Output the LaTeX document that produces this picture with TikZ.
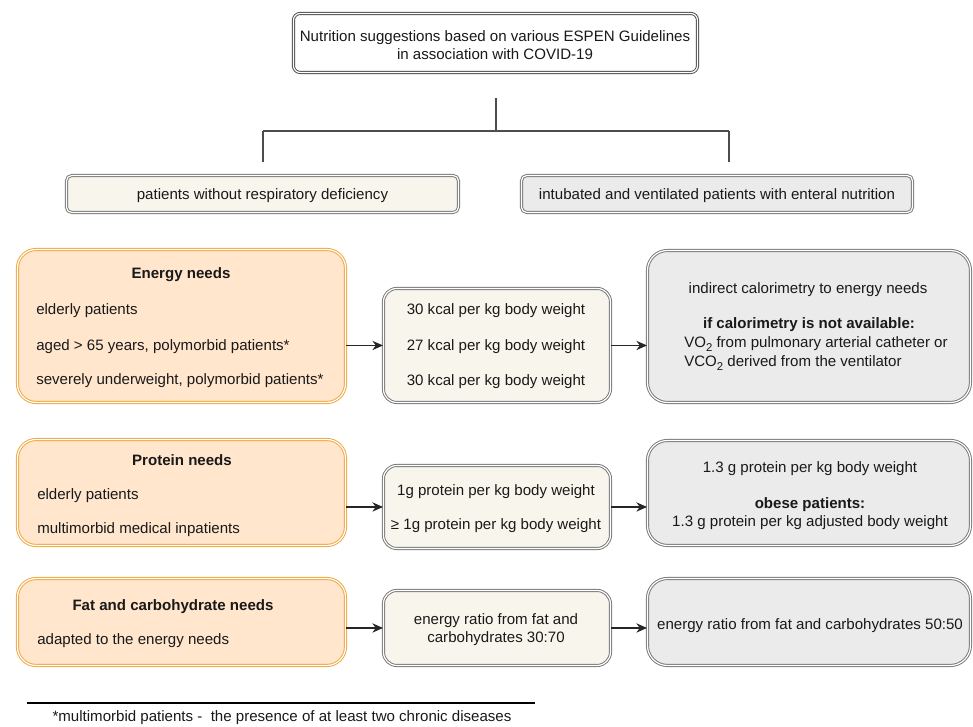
\documentclass[tikz,border=0pt]{standalone}
\usepackage{fontspec}
\setmainfont{Liberation Sans}
\usetikzlibrary{arrows.meta}
\definecolor{orfill}{HTML}{FFE6CC}
\definecolor{ordraw}{HTML}{F0A53A}
\definecolor{gfill}{HTML}{EBEBEB}
\definecolor{cfill}{HTML}{F8F6EC}
\definecolor{gdraw}{HTML}{767676}
\definecolor{tdraw}{HTML}{4A4A4A}
\newcommand{\subtwo}{\raisebox{-0.45ex}{\fontsize{8.5}{8.5}\selectfont 2}}
\begin{document}
\begin{tikzpicture}[x=0.75pt,y=-0.75pt,
  every node/.style={font=\fontsize{11.3}{13.5}\selectfont, inner sep=0pt, text=black!90},
  box/.style={draw=gdraw, double=white, double distance=0.9pt, line width=0.7pt, anchor=north west, rectangle},
  topbox/.style={box, draw=tdraw, fill=white, rounded corners=5pt},
  catbox/.style={box, rounded corners=4pt},
  orbox/.style={box, draw=ordraw, fill=orfill, rounded corners=14pt},
  midbox/.style={box, fill=cfill, rounded corners=10pt},
  rbox/.style={box, fill=gfill, rounded corners=15pt},
  tx/.style={yshift=-1.5pt},
  ltxt/.style={tx, anchor=west},
  ctxt/.style={tx, align=center},
  tree/.style={draw=black!70, line width=0.9pt},
  arr/.style={draw=black!85, line width=0.9pt, -{Stealth[length=8pt,width=7pt]}}
]
\useasboundingbox (0,0) rectangle (973,726);

% top
\node[topbox, minimum width=303pt, minimum height=44.25pt] (top) at (293,13) {};
\node[ctxt] (toptxt) at (495,43) {Nutrition suggestions based on various ESPEN Guidelines\\in association with COVID-19};

% tree
\coordinate (t0) at (496,98);
\coordinate (tj) at (496,131);
\coordinate (tl) at (263,131);
\coordinate (tr) at (729,131);
\coordinate (tlb) at (263,162);
\coordinate (trb) at (729,162);
\draw[tree] (t0) -- (tj);
\draw[tree] (tl) -- (tr);
\draw[tree] (tl) -- (tlb);
\draw[tree] (tr) -- (trb);

% categories
\node[catbox, fill=cfill, minimum width=294pt, minimum height=27.75pt] (catL) at (66,175) {};
\node[tx] (catLt) at (catL.center) {patients without respiratory deficiency};
\node[catbox, fill=gfill, minimum width=293.25pt, minimum height=27.75pt] (catR) at (521,175) {};
\node[tx] (catRt) at (catR.center) {intubated and ventilated patients with enteral nutrition};

% energy row
\node[orbox, minimum width=246pt, minimum height=114.75pt] (E) at (17,249) {};
\node[tx] (E0) at (181,273) {\bfseries Energy needs};
\node[ltxt] (E1) at (36,309) {elderly patients};
\node[ltxt] (E2) at (36,345) {aged > 65 years, polymorbid patients*};
\node[ltxt] (E3) at (36,379) {severely underweight, polymorbid patients*};

\node[midbox, minimum width=170.25pt, minimum height=85.5pt] (Em) at (383,288) {};
\node[tx] (Em1) at (496,309) {30 kcal per kg body weight};
\node[tx] (Em2) at (496,345) {27 kcal per kg body weight};
\node[tx] (Em3) at (496,380) {30 kcal per kg body weight};

\node[rbox, minimum width=242.25pt, minimum height=114pt] (Er) at (647,250) {};
\node[tx] (Er1) at (808,288) {indirect calorimetry to energy needs};
\node[tx] (Er2) at (809,323) {\bfseries if calorimetry is not available:};
\node[ltxt] (Er3) at (684,342) {VO\subtwo{} from pulmonary arterial catheter or};
\node[ltxt] (Er4) at (684,361) {VCO\subtwo{} derived from the ventilator};

\draw[arr] (E.east |- Em.west) -- (Em.west);
\draw[arr] (Em.east) -- (Em.east -| Er.west);

% protein row
\node[orbox, minimum width=246pt, minimum height=79.5pt] (P) at (17,439) {};
\node[tx] (P0) at (182,458) {\bfseries Protein needs};
\node[ltxt] (P1) at (37,494) {elderly patients};
\node[ltxt] (P2) at (37,528) {multimorbid medical inpatients};

\node[midbox, minimum width=170.25pt, minimum height=62.25pt] (Pm) at (383,465) {};
\node[tx] (Pm1) at (496,490) {1g protein per kg body weight};
\node[tx] (Pm2) at (496,524) {≥ 1g protein per kg body weight};

\node[rbox, minimum width=242.25pt, minimum height=78.75pt] (Pr) at (647,440) {};
\node[tx] (Pr1) at (810,467) {1.3 g protein per kg body weight};
\node[tx] (Pr2) at (810,503) {\bfseries obese patients:};
\node[tx] (Pr3) at (810,521) {1.3 g protein per kg adjusted body weight};

\draw[arr] (P.east |- Pm.west) -- (Pm.west);
\draw[arr] (Pm.east) -- (Pm.east -| Pr.west);

% fat row
\node[orbox, minimum width=246pt, minimum height=65.25pt] (F) at (17,578) {};
\node[tx] (F0) at (173,605) {\bfseries Fat and carbohydrate needs};
\node[ltxt] (F1) at (37,639) {adapted to the energy needs};

\node[midbox, minimum width=170.25pt, minimum height=56.25pt] (Fm) at (383,590) {};
\node[ctxt] (Fm1) at (496,628) {energy ratio from fat and\\carbohydrates 30:70};

\node[rbox, minimum width=242.25pt, minimum height=65.25pt] (Fr) at (647,578) {};
\node[tx] (Fr1) at (810,624) {energy ratio from fat and carbohydrates 50:50};

\draw[arr] (F.east |- Fm.west) -- (Fm.west);
\draw[arr] (Fm.east) -- (Fm.east -| Fr.west);

% footnote
\coordinate (f1) at (27,703);
\coordinate (f2) at (535,703);
\draw[draw=black, line width=0.9pt] (f1) -- (f2);
\node[tx] (fn) at (282,716) {*multimorbid patients -\ \ the presence of at least two chronic diseases};
\end{tikzpicture}
\end{document}
